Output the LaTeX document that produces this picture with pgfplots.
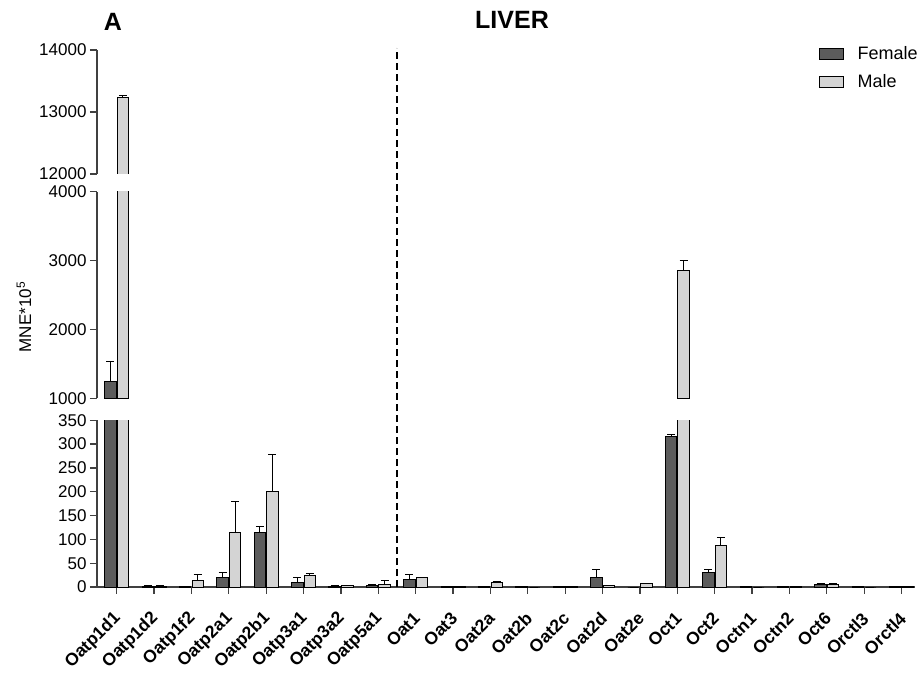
\documentclass[border=0pt]{standalone}
\usepackage{pgfplots}
\pgfplotsset{compat=1.18}
\usepackage{pgfplotstable}
\usepackage{fontspec}
\setmainfont{Liberation Sans}
\definecolor{fem}{HTML}{5C5C5C}
\definecolor{mal}{HTML}{D4D4D4}
\definecolor{axgray}{HTML}{404040}

\pgfplotstableread{
x F Fe M Me
0 1240 300 13235 35
1 2 1 2 1
2 0.5 0 13 14
3 21 10 114 65
4 114 12 200 79
5 10.5 8.5 24 5
6 2 0.5 3 0.5
7 4 1 5.6 7.4
8 16 10 20 1
9 1 0 1 0
10 1 0 10.5 1
11 1 0 0 0
12 0.3 0 2 0
13 19.6 16.4 3 0
14 0 0 7 0
15 316 5 2850 147
16 30 6 87 17
17 0.5 0 0 0
18 2 0 1.5 0
19 6 1 5 1.5
20 1 0 0 0
21 1.5 0 1.5 0
}\data

\pgfplotsset{
  brk/.style={
    scale only axis, width=818pt,
    xmin=-0.527, xmax=21.36,
    axis y line*=left,
    axis line style={line width=1.3pt, color=axgray},
    tick style={line width=1.3pt, color=axgray},
    tick align=outside, major tick length=7pt,
    ybar, bar width=11.5pt,
    tick label style={font=\fontsize{17}{20}\selectfont},
    /pgf/number format/assume math mode=true,
    /pgf/number format/set thousands separator={},
    scaled y ticks=false,
    error bars/error bar style={black, line width=1pt},
    error bars/error mark options={rotate=90, black, mark size=4pt, line width=1pt},
  },
  femplot/.style={fill=fem, draw=black, line width=0.8pt, bar shift=-6.3pt},
  malplot/.style={fill=mal, draw=black, line width=0.8pt, bar shift=6.3pt},
}

\begin{document}
\begin{tikzpicture}
\useasboundingbox (-97pt,-85pt) rectangle (823pt,587pt);

% bottom segment
\begin{axis}[brk, at={(0pt,0pt)}, anchor=south west, height=166.7pt,
  ymin=0, ymax=350, ytick={0,50,...,350},
  axis x line*=bottom,
  xtick={0,...,21},
  xticklabels={Oatp1d1,Oatp1d2,Oatp1f2,Oatp2a1,Oatp2b1,Oatp3a1,Oatp3a2,Oatp5a1,Oat1,Oat3,Oat2a,Oat2b,Oat2c,Oat2d,Oat2e,Oct1,Oct2,Octn1,Octn2,Oct6,Orctl3,Orctl4},
  xticklabel style={yshift=-21pt, xshift=2pt, rotate=45, anchor=east, font=\fontsize{17.5}{20}\selectfont\bfseries, inner sep=1pt},
]
\addplot[femplot, error bars/.cd, y dir=plus, y explicit] table[x=x, y=F, y error plus=Fe] {\data};
\addplot[malplot, error bars/.cd, y dir=plus, y explicit] table[x=x, y=M, y error plus=Me] {\data};
\coordinate (dl) at (axis cs:7.5,0);
\end{axis}

% middle segment
\begin{axis}[brk, at={(0pt,188.7pt)}, anchor=south west, height=206.6pt,
  ymin=1000, ymax=4000, ytick={1000,2000,3000,4000},
  axis x line=none, restrict y to domain=1001:100000,
]
\addplot[femplot, error bars/.cd, y dir=plus, y explicit] table[x=x, y=F, y error plus=Fe] {\data};
\addplot[malplot, error bars/.cd, y dir=plus, y explicit] table[x=x, y=M, y error plus=Me] {\data};
\end{axis}

% top segment
\begin{axis}[brk, at={(0pt,413pt)}, anchor=south west, height=124pt,
  ymin=12000, ymax=14000, ytick={12000,13000,14000},
  axis x line=none, restrict y to domain=12001:100000,
  legend style={draw=none, fill=none, at={(0.879,1.065)}, anchor=north west,
    font=\fontsize{18}{20}\selectfont, row sep=10pt, column sep=12pt, legend cell align=left},
]
\addplot[femplot, forget plot, error bars/.cd, y dir=plus, y explicit] table[x=x, y=F, y error plus=Fe] {\data};
\addplot[malplot, forget plot, error bars/.cd, y dir=plus, y explicit] table[x=x, y=M, y error plus=Me] {\data};
\addlegendimage{legend image code/.code={\draw[fill=fem, draw=black, line width=0.8pt] (0pt,-5.5pt) rectangle (23.5pt,5.5pt);}}
\addlegendentry{Female}
\addlegendimage{legend image code/.code={\draw[fill=mal, draw=black, line width=0.8pt] (0pt,-5.5pt) rectangle (23.5pt,5.5pt);}}
\addlegendentry{Male}
\end{axis}

\draw[black, line width=1.8pt, dash pattern=on 7pt off 4pt] (dl) -- ++(0pt,539pt);

\node[font=\fontsize{17}{20}\selectfont, rotate=90] at (-73pt,270pt) {MNE*10\textsuperscript{5}};
\node[font=\fontsize{25}{28}\selectfont\bfseries] at (16pt,565pt) {A};
\node[font=\fontsize{25}{28}\selectfont\bfseries] at (415pt,567pt) {LIVER};
\end{tikzpicture}
\end{document}
